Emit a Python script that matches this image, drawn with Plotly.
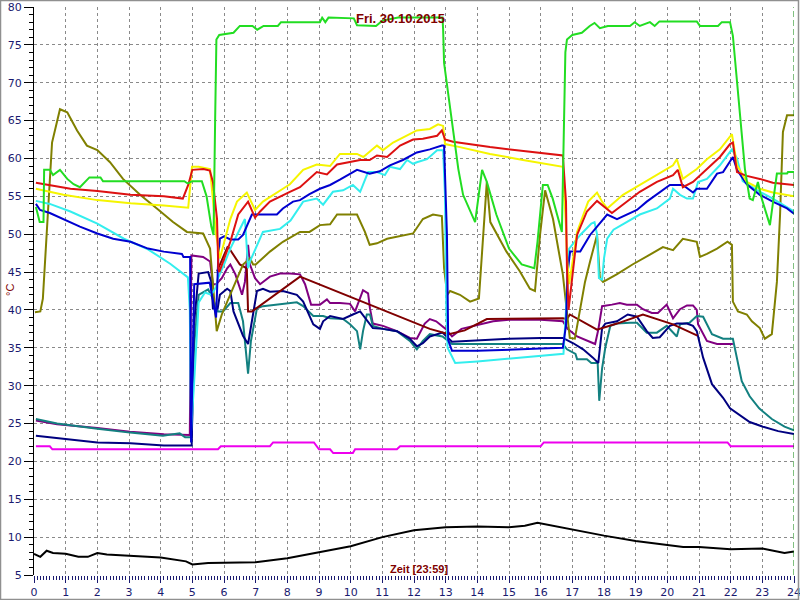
import plotly.graph_objects as go

# ---------------- data (hours, °C) ----------------
green_t = [0.06,0.18,0.3,0.32,0.5,0.6,0.82,1.05,1.25,1.45,1.75,2.1,2.18,4.75,4.85,5.0,5.3,5.45,5.6,5.67,5.72,5.76,5.85,6.3,6.5,6.9,7.05,7.25,7.7,7.8,8.0,9.03,9.1,9.2,9.3,10.1,10.2,10.8,11.0,11.5,12.9,12.92,12.95,13.05,13.25,13.4,13.55,13.93,14.15,14.3,14.6,15.0,15.4,15.8,15.9,16.07,16.22,16.38,16.67,16.72,16.78,16.83,17.0,17.3,17.55,17.7,17.87,18.12,18.82,18.97,19.13,19.45,19.6,19.75,20.93,21.03,21.6,21.72,21.98,22.07,22.3,22.45,22.6,22.7,22.86,22.98,23.24,23.33,23.46,23.78,23.81,24.0]
green_v = [53.6,51.6,51.6,58.5,58.5,57.8,58.5,57.3,56.6,56.2,57.5,57.5,57.0,57.0,56.7,57.0,57.0,55.0,51.0,49.9,65.0,75.7,76.3,76.6,77.5,77.5,77.0,77.5,77.5,78.0,78.0,78.0,78.6,78.0,78.6,78.5,77.6,77.5,78.2,78.6,78.6,77.0,72.6,69.6,63.5,58.6,55.2,51.6,58.5,56.9,52.6,48.1,46.0,45.5,49.0,56.5,56.5,54.7,50.3,63.0,74.0,75.7,76.3,76.6,77.5,77.9,77.2,77.5,77.5,78.0,77.5,78.0,77.5,78.1,78.1,77.5,77.5,78.0,78.0,76.2,66.1,58.6,54.7,54.5,56.9,54.7,51.2,54.3,58.0,58.0,58.2,58.2]

red_t = [0.06,0.5,1.15,2.0,3.05,4.1,4.7,4.87,5.0,5.35,5.55,5.65,5.78,5.82,5.85,6.2,6.45,6.76,6.98,7.14,7.45,8.08,8.4,8.93,9.25,9.57,10.3,10.6,10.83,11.15,11.56,11.97,12.28,12.73,12.88,12.98,13.23,14.4,15.98,16.7,16.8,16.83,16.88,17.15,17.46,17.78,18.25,18.72,19.13,19.67,20.18,20.33,20.49,20.81,21.25,21.66,21.98,22.07,22.2,22.51,22.92,23.33,24.0]
red_v = [56.8,56.5,56.0,55.7,55.2,55.0,54.7,56.5,58.5,58.6,58.4,56.9,52.0,45.5,45.0,49.0,52.6,54.3,52.2,53.0,54.3,55.6,56.2,58.2,57.9,59.2,59.8,59.8,60.4,60.2,61.7,62.5,62.6,63.0,63.7,62.5,62.2,61.5,60.8,60.4,54.3,45.5,40.0,49.9,53.0,54.4,52.8,54.3,55.6,56.9,57.8,58.5,56.2,56.9,58.6,60.2,61.9,62.1,58.2,57.7,57.3,56.8,56.5]

yellow_t = [0.06,0.93,2.0,3.05,4.1,4.87,4.99,5.2,5.56,5.62,5.75,5.87,6.2,6.41,6.72,6.98,7.23,7.86,8.08,8.5,8.93,9.35,9.66,10.2,10.4,10.83,11.02,11.34,11.78,12.09,12.5,12.76,12.92,12.98,13.45,14.4,15.44,16.7,16.8,16.83,16.9,17.15,17.5,17.78,17.94,18.1,18.6,19.13,19.67,20.18,20.3,20.49,20.93,21.25,21.66,22.04,22.2,22.51,22.92,23.33,24.0]
yellow_v = [56.0,55.2,54.5,54.1,53.8,53.5,58.9,58.9,58.6,56.0,50.0,46.8,52.0,54.3,55.5,53.2,54.3,56.0,56.6,58.5,59.2,59.0,60.6,60.6,60.2,61.7,61.1,62.1,63.0,63.7,63.9,64.5,64.3,61.9,61.5,60.6,59.8,58.9,51.0,47.0,43.4,50.3,54.3,55.5,54.3,53.4,55.2,56.5,57.8,59.1,59.9,57.3,58.6,59.9,61.2,63.2,59.1,56.9,56.0,55.5,55.0]

blue_t = [0.06,0.19,0.5,0.93,1.45,2.0,2.5,3.05,3.6,4.1,4.67,4.72,4.93,4.96,5.0,5.06,5.55,5.65,5.75,5.82,5.87,6.0,6.2,6.45,6.6,6.88,7.14,7.67,7.86,8.18,8.4,8.7,9.03,9.35,9.66,10.2,10.6,10.92,11.24,11.65,12.09,12.5,12.88,12.95,13.04,13.08,13.2,14.0,16.0,16.7,16.8,16.85,16.93,17.25,17.56,17.82,18.1,18.41,19.04,19.35,19.86,20.08,20.49,20.81,20.93,21.25,21.57,21.76,22.07,22.2,22.51,22.92,23.33,23.78,24.0]
blue_v = [54.0,53.2,52.8,52.0,51.0,50.1,49.4,49.0,48.1,47.7,47.4,47.0,47.0,22.5,30.0,43.4,43.6,41.0,39.0,47.0,49.4,49.7,49.3,49.3,49.9,52.6,52.6,52.6,53.4,54.3,54.5,55.3,56.0,56.5,57.2,58.5,58.0,58.3,59.1,59.8,60.8,61.2,61.7,61.7,50.0,36.0,34.6,34.6,34.9,35.0,38.0,45.0,47.7,47.7,49.9,51.2,52.6,52.0,53.2,54.3,55.8,56.5,56.5,55.5,56.0,56.0,58.0,58.2,60.2,58.5,56.6,55.2,54.3,53.4,52.7]

cyan_t = [0.06,0.5,1.15,2.0,2.84,3.6,4.3,4.86,4.92,4.96,5.05,5.2,5.4,5.6,5.75,5.81,6.0,6.2,6.41,6.66,6.7,6.76,6.82,7.05,7.23,7.77,8.1,8.5,8.93,9.13,9.44,9.76,10.07,10.3,10.55,10.83,11.08,11.24,11.56,11.78,11.97,12.09,12.41,12.73,12.92,12.98,13.02,13.06,13.3,14.0,15.0,16.0,16.72,16.8,16.9,17.25,17.6,17.7,17.78,17.84,17.94,18.0,18.1,18.3,18.72,19.13,19.67,20.08,20.18,20.4,20.62,20.81,20.97,21.25,21.66,22.04,22.2,22.38,22.92,23.33,24.0]
cyan_v = [54.4,54.0,53.0,51.4,49.4,48.0,46.1,44.3,40.0,24.0,30.0,41.0,42.3,42.0,43.0,44.2,46.0,48.1,49.9,52.0,49.5,45.5,46.4,48.6,50.3,50.7,51.8,54.3,54.7,53.9,55.6,55.8,56.5,55.6,58.2,58.2,57.8,58.9,58.6,59.8,59.3,59.5,59.9,61.1,61.1,55.0,40.0,35.0,33.0,33.2,33.6,34.0,34.2,40.0,48.1,49.9,51.4,51.6,50.0,44.2,44.0,46.8,49.4,50.6,51.6,52.6,53.4,54.7,56.0,55.2,54.7,54.7,56.9,57.3,59.1,61.2,60.0,57.0,55.6,54.7,53.0]

olive_t = [0.03,0.2,0.28,0.57,0.82,1.05,1.36,1.67,2.0,2.4,2.81,3.35,3.88,4.39,4.83,5.34,5.56,5.65,5.72,5.77,5.93,6.24,6.6,6.82,6.92,7.0,7.45,7.86,8.4,8.7,9.03,9.35,9.57,10.2,10.45,10.6,10.83,11.15,11.97,12.28,12.6,12.88,12.95,13.05,13.14,13.45,13.77,14.05,14.3,14.41,14.92,15.34,15.66,15.82,15.98,16.14,16.39,16.7,16.92,17.08,17.24,17.4,17.56,17.78,17.87,17.97,18.4,18.9,19.45,19.86,20.18,20.49,20.93,21.03,21.25,21.57,21.9,22.04,22.07,22.23,22.51,22.67,22.92,23.08,23.3,23.46,23.56,23.65,23.78,24.0]
olive_v = [39.7,39.8,41.5,62.1,66.5,66.1,63.7,61.7,61.1,59.5,57.3,55.2,53.4,51.6,50.3,50.1,48.1,43.4,39.0,37.2,39.4,42.5,46.0,46.8,46.0,46.0,47.7,49.0,50.3,50.3,51.2,51.3,52.6,52.6,50.3,48.6,48.8,49.4,50.1,52.0,52.6,52.4,45.5,42.0,42.5,42.0,41.1,41.5,56.9,51.6,47.7,45.1,42.8,42.5,49.9,55.8,52.0,44.7,36.3,36.2,40.0,43.7,46.4,49.9,44.2,43.7,44.7,46.0,47.3,48.3,47.9,49.4,49.0,47.0,47.4,48.1,49.0,48.6,41.1,39.8,39.4,38.5,37.6,36.2,36.8,43.7,52.6,63.5,65.7,65.7]

purple_t = [0.06,0.73,2.0,3.03,4.1,4.92,4.97,5.34,5.56,5.65,5.75,5.93,6.1,6.2,6.36,6.57,6.66,6.76,6.82,6.98,7.14,7.45,7.77,8.08,8.4,8.56,8.75,9.03,9.25,9.35,9.66,9.98,10.14,10.3,10.39,10.55,10.61,10.7,11.02,11.46,11.87,12.09,12.34,12.5,12.7,13.0,13.2,13.5,14.0,14.5,15.0,16.0,16.7,16.85,17.15,17.46,17.72,17.82,17.94,18.25,18.5,18.72,19.04,19.23,19.51,19.7,19.98,20.18,20.4,20.62,20.81,20.93,20.97,21.25,21.57,22.07]
purple_v = [25.4,24.9,24.4,23.9,23.6,23.5,47.2,47.0,46.4,43.4,43.4,44.2,45.5,46.0,44.7,42.0,43.7,48.6,46.0,44.2,43.4,44.4,44.8,44.8,44.7,43.4,40.7,40.7,41.4,40.9,40.9,40.8,39.8,41.5,42.6,42.2,40.2,38.2,37.9,37.2,36.3,36.2,38.2,38.8,38.5,37.5,36.5,37.5,38.0,38.5,38.7,38.7,38.5,37.5,36.5,35.9,35.5,37.4,40.5,40.7,40.9,40.7,40.7,40.1,39.6,39.6,40.7,38.9,40.1,40.6,40.6,40.0,38.1,35.9,35.5,35.5]

maroon_t = [5.78,6.12,6.5,6.72,6.76,6.88,8.4,12.5,13.1,13.6,14.3,16.7,16.83,16.92,17.78,18.41,19.23,20.18,20.95]
maroon_v = [45.1,48.4,46.0,45.5,39.8,39.8,44.4,37.5,36.8,37.3,38.8,38.9,38.8,39.4,37.4,38.2,39.4,38.1,36.6]

navy_t = [0.06,0.93,2.0,3.05,4.1,4.98,5.05,5.2,5.5,5.6,5.65,5.8,5.87,6.1,6.2,6.3,6.45,6.6,6.76,6.88,7.04,7.23,7.45,7.86,8.3,8.5,8.82,9.03,9.13,9.35,9.76,10.07,10.3,10.7,11.02,11.46,11.87,12.09,12.28,12.5,12.9,13.2,14.0,15.0,16.0,16.7,17.03,17.34,17.65,17.82,17.94,18.04,18.41,18.75,19.04,19.35,19.54,19.76,20.08,20.3,20.62,20.81,20.93,21.13,21.41,21.76,21.98,22.2,22.6,23.0,23.5,24.0]
navy_v = [23.4,23.0,22.5,22.4,22.1,22.1,38.0,44.8,45.0,43.7,40.2,40.2,42.0,42.8,42.5,39.8,38.1,36.6,35.5,38.5,42.5,42.8,42.4,42.5,42.0,41.1,38.1,37.5,38.5,39.2,38.8,39.4,39.8,37.6,37.5,37.2,36.2,35.2,35.6,36.5,37.0,35.8,36.0,36.2,36.3,36.3,35.6,34.8,33.7,33.0,37.6,38.2,38.5,39.4,39.1,37.2,36.3,36.4,37.9,38.2,38.2,37.9,37.2,33.7,30.2,28.4,27.0,26.4,25.2,24.6,24.0,23.6]

teal_t = [0.06,0.73,2.0,3.03,4.07,4.6,4.77,4.98,5.05,5.2,5.5,5.65,5.81,5.97,6.2,6.45,6.6,6.69,6.76,6.85,7.04,7.23,7.67,8.3,8.5,8.82,9.13,9.35,9.76,9.98,10.2,10.3,10.39,10.51,10.61,10.7,11.02,11.46,11.87,12.09,12.28,12.5,12.9,13.2,16.7,16.83,17.1,17.15,17.46,17.6,17.8,17.85,17.94,18.04,18.2,18.41,18.82,19.04,19.35,19.67,19.98,20.3,20.4,20.7,20.93,21.13,21.41,21.76,22.07,22.2,22.35,22.6,22.9,23.3,23.7,24.0]
teal_v = [25.6,25.0,24.3,23.8,23.4,23.7,23.2,23.2,35.0,42.0,42.7,41.5,39.8,39.8,40.9,40.9,38.5,35.0,31.6,35.9,40.2,40.5,40.7,41.0,40.5,39.2,39.2,38.9,38.8,38.1,37.2,34.8,37.2,39.4,39.4,37.9,37.5,37.2,35.9,34.8,35.9,36.8,36.5,35.5,35.5,34.8,34.2,33.5,33.5,33.0,33.0,28.0,32.3,35.0,37.9,38.2,38.3,38.3,37.0,37.0,37.9,36.5,38.1,38.3,39.2,39.1,36.8,36.2,36.2,33.7,30.6,28.6,27.0,25.6,24.6,24.1]

magenta_t = [0.06,0.5,0.58,5.81,5.9,7.45,7.55,8.84,9.0,9.35,9.45,10.07,10.14,11.46,11.56,16.0,16.1,21.9,22.0,24.0]
magenta_v = [22.0,22.0,21.6,21.6,22.0,22.0,22.5,22.5,21.6,21.6,21.1,21.1,21.6,21.6,22.0,22.0,22.5,22.5,22.0,22.0]

black_t = [0.0,0.2,0.4,0.6,1.0,1.4,1.7,2.0,2.3,3.0,4.0,4.8,5.0,5.5,6.0,7.0,8.0,9.0,10.0,11.0,12.0,13.0,14.0,15.0,15.5,15.9,16.5,17.0,18.0,19.0,20.0,20.5,21.0,22.0,23.0,23.4,23.7,24.0]
black_v = [7.8,7.4,8.2,7.9,7.8,7.4,7.4,7.9,7.7,7.5,7.3,6.8,6.4,6.6,6.6,6.7,7.2,8.0,8.8,10.0,10.9,11.3,11.4,11.3,11.5,11.9,11.4,11.0,10.2,9.5,9.0,8.7,8.7,8.4,8.5,8.2,7.9,8.1]

series = [
    ("black", black_t, black_v, "#000000"),
    ("magenta", magenta_t, magenta_v, "#ee00ee"),
    ("purple", purple_t, purple_v, "#800080"),
    ("teal", teal_t, teal_v, "#138080"),
    ("navy", navy_t, navy_v, "#000080"),
    ("maroon", maroon_t, maroon_v, "#800000"),
    ("olive", olive_t, olive_v, "#808000"),
    ("cyan", cyan_t, cyan_v, "#33eeee"),
    ("blue", blue_t, blue_v, "#0000d0"),
    ("yellow", yellow_t, yellow_v, "#f5f500"),
    ("red", red_t, red_v, "#dd1111"),
    ("green", green_t, green_v, "#22dd22"),
]

x_ticks = list(range(0, 25))
y_ticks = list(range(5, 81, 5))

fig = go.Figure()
for name, t, v, c in series:
    fig.add_trace(go.Scatter(x=t, y=v, mode="lines", name=name,
                             line=dict(color=c, width=2), hoverinfo="skip"))

# current-time marker
fig.add_shape(type="line", xref="x", yref="paper", x0=24, x1=24, y0=0, y1=1,
              line=dict(color="#008000", width=1, dash="6px,3px"))

L, R, T, B = 34, 6, 7, 25
W, H = 800, 600
pw, ph = W - L - R, H - T - B
# outer frame of the picture
fig.add_shape(type="rect", xref="paper", yref="paper",
              x0=(-L + 0.5) / pw, x1=(pw + R - 1.5) / pw,
              y0=(-B + 0.5) / ph, y1=(ph + T - 0.5) / ph,
              line=dict(color="#909090", width=1.5), layer="above")

tickfont = dict(family="DejaVu Sans", size=11, color="#1a1a70")
fig.update_xaxes(range=[0, 24], tickvals=x_ticks, ticks="outside", ticklen=7,
                 tickcolor="#1a1a70", tickfont=tickfont, showline=False,
                 showgrid=True, gridcolor="#8a8a8a", griddash="3px,3px", gridwidth=1,
                 zeroline=False, ticklabeloverflow="allow", automargin=False,
                 minor=dict(dtick=0.1, ticks="outside", ticklen=4, tickcolor="#1a1a70", showgrid=False))
fig.update_yaxes(range=[5, 80], tickvals=y_ticks, ticks="outside", ticklen=9,
                 tickcolor="#000000", tickfont=tickfont, showline=True, linecolor="#000000",
                 linewidth=1, showgrid=True, gridcolor="#8a8a8a", griddash="3px,3px", gridwidth=1,
                 zeroline=False, ticklabeloverflow="allow", automargin=False,
                 minor=dict(dtick=1, ticks="outside", ticklen=4, tickcolor="#000000", showgrid=False))

fig.update_layout(
    width=W, height=H, margin=dict(l=L, r=R, t=T, b=B),
    plot_bgcolor="white", paper_bgcolor="white", showlegend=False,
    annotations=[
        dict(text="<b>Fri. 30.10.2015</b>", xref="paper", yref="paper", x=(400 - L) / pw, y=(ph + T - 18) / ph,
             showarrow=False, font=dict(family="Liberation Sans", size=13, color="#800000"), yanchor="middle"),
        dict(text="<b>Zeit [23:59]</b>", xref="paper", yref="paper", x=(419 - L) / pw, y=(-569 + T + ph) / ph,
             showarrow=False, font=dict(family="Liberation Sans", size=11, color="#800000"), yanchor="middle"),
        dict(text="°C", xref="paper", yref="paper", x=(10 - L) / pw, y=(575 - 290) / ph,
             showarrow=False, textangle=-90, font=dict(family="Liberation Sans", size=11, color="#800000"),
             xanchor="center", yanchor="middle"),
    ],
)

fig.write_html("out.html", config={"displayModeBar": False},
               post_script="document.body.style.margin='0';")
